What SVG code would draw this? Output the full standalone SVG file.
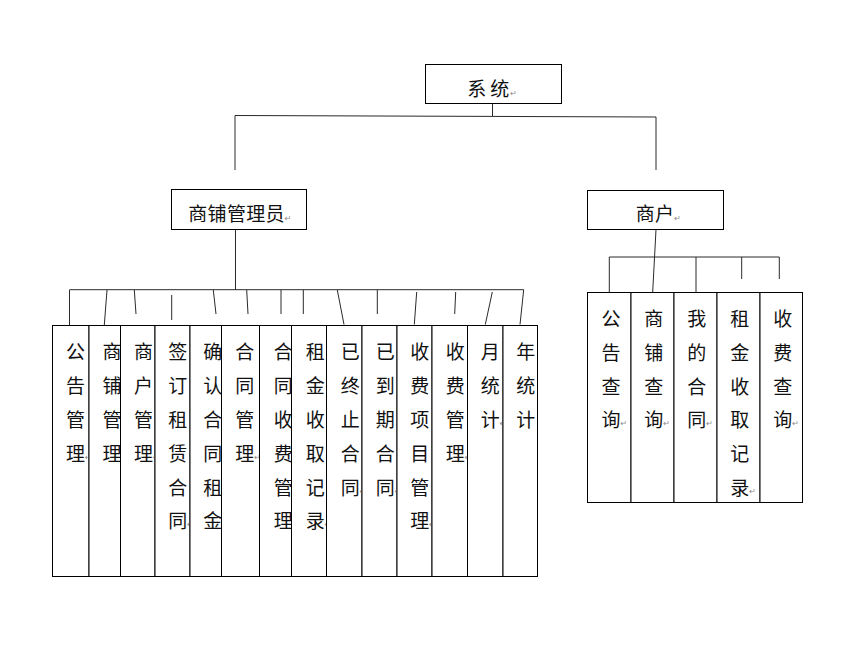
<svg xmlns="http://www.w3.org/2000/svg" width="849" height="664" viewBox="0 0 849 664">
<style>
.bg{fill:#ffffff}
.box{fill:#ffffff;stroke:#000000;stroke-width:1}
.t{font-family:"Noto Sans CJK SC","Noto Sans CJK TC",sans-serif;font-size:19px;fill:#111111}
.h{letter-spacing:0.3px}
.pm{font-family:"DejaVu Sans",sans-serif;font-size:8px;fill:#8a8a8a;letter-spacing:0}
.c{stroke:#2a2a2a;stroke-width:1;fill:none}
</style>
<rect class="bg" x="0" y="0" width="849" height="664"/>

<g id="connectors">
  <line class="c" x1="492.5" y1="103.5" x2="492.5" y2="116"/>
  <line class="c" x1="235" y1="115.5" x2="656" y2="117"/>
  <line class="c" x1="235" y1="115.5" x2="235" y2="170"/>
  <line class="c" x1="656" y1="117" x2="656" y2="170"/>

  <line class="c" x1="235.5" y1="229.5" x2="235.5" y2="290"/>
  <line class="c" x1="69.5" y1="289.7" x2="523.7" y2="289.7"/>
  <line class="c" x1="69.5" y1="290" x2="69.5" y2="325"/>
  <line class="c" x1="107" y1="290" x2="104.3" y2="325"/>
  <line class="c" x1="134.3" y1="290" x2="136" y2="314"/>
  <line class="c" x1="171.7" y1="295" x2="171.7" y2="320"/>
  <line class="c" x1="213.3" y1="290" x2="216" y2="314"/>
  <line class="c" x1="246.7" y1="290" x2="248" y2="314"/>
  <line class="c" x1="281" y1="290" x2="281" y2="314"/>
  <line class="c" x1="303.3" y1="290" x2="303.3" y2="314"/>
  <line class="c" x1="337.3" y1="290" x2="344" y2="324.5"/>
  <line class="c" x1="377.3" y1="290" x2="377.3" y2="314"/>
  <line class="c" x1="416.7" y1="292" x2="414.3" y2="324.5"/>
  <line class="c" x1="455.7" y1="292" x2="454.7" y2="314"/>
  <line class="c" x1="492.3" y1="292" x2="485.3" y2="324.5"/>
  <line class="c" x1="523.7" y1="289.7" x2="520" y2="324.5"/>

  <line class="c" x1="656" y1="229.5" x2="652.7" y2="292"/>
  <line class="c" x1="609.3" y1="257" x2="779.3" y2="257"/>
  <line class="c" x1="609.3" y1="257" x2="609.3" y2="292"/>
  <line class="c" x1="696" y1="257" x2="696" y2="292"/>
  <line class="c" x1="741.7" y1="257" x2="741.7" y2="279"/>
  <line class="c" x1="779.3" y1="257" x2="779.3" y2="279"/>
</g>

<g id="node-system">
  <rect class="box" x="425.5" y="64.5" width="136" height="39"/>
  <text class="t" x="467.3 486.5 490.3" y="96">系 统<tspan class="pm" dx="1">↵</tspan></text>
</g>

<g id="node-admin">
  <rect class="box" x="171.5" y="189.5" width="135" height="40"/>
  <text class="t h" x="188.3" y="221">商铺管理员<tspan class="pm">↵</tspan></text>
</g>

<g id="node-merchant">
  <rect class="box" x="587.5" y="190.5" width="136" height="39"/>
  <text class="t h" x="635.7" y="221">商户<tspan class="pm">↵</tspan></text>
</g>

<g id="node-a01">
  <rect class="box" x="52.5" y="325.5" width="36.5" height="251"/>
  <text class="t"><tspan x="66" y="358.9">公</tspan><tspan x="66" y="392.8">告</tspan><tspan x="66" y="426.7">管</tspan><tspan x="66" y="460.6">理</tspan><tspan class="pm" dy="-1">↵</tspan></text>
</g>
<g id="node-a02">
  <rect class="box" x="89" y="325.5" width="31.5" height="251"/>
  <text class="t"><tspan x="102.5" y="358.9">商</tspan><tspan x="102.5" y="392.8">铺</tspan><tspan x="102.5" y="426.7">管</tspan><tspan x="102.5" y="460.6">理</tspan><tspan class="pm" dy="-1">↵</tspan></text>
</g>
<g id="node-a03">
  <rect class="box" x="120.5" y="325.5" width="34.5" height="251"/>
  <text class="t"><tspan x="134" y="358.9">商</tspan><tspan x="134" y="392.8">户</tspan><tspan x="134" y="426.7">管</tspan><tspan x="134" y="460.6">理</tspan><tspan class="pm" dy="-1">↵</tspan></text>
</g>
<g id="node-a04">
  <rect class="box" x="155" y="325.5" width="35" height="251"/>
  <text class="t"><tspan x="168.3" y="358.9">签</tspan><tspan x="168.3" y="392.8">订</tspan><tspan x="168.3" y="426.7">租</tspan><tspan x="168.3" y="460.6">赁</tspan><tspan x="168.3" y="494.5">合</tspan><tspan x="168.3" y="528.4">同</tspan><tspan class="pm" dy="-1">↵</tspan></text>
</g>
<g id="node-a05">
  <rect class="box" x="190" y="325.5" width="31.5" height="251"/>
  <text class="t"><tspan x="203.3" y="358.9">确</tspan><tspan x="203.3" y="392.8">认</tspan><tspan x="203.3" y="426.7">合</tspan><tspan x="203.3" y="460.6">同</tspan><tspan x="203.3" y="494.5">租</tspan><tspan x="203.3" y="528.4">金</tspan><tspan class="pm" dy="-1">↵</tspan></text>
</g>
<g id="node-a06">
  <rect class="box" x="221.5" y="325.5" width="38" height="251"/>
  <text class="t"><tspan x="235.2" y="358.9">合</tspan><tspan x="235.2" y="392.8">同</tspan><tspan x="235.2" y="426.7">管</tspan><tspan x="235.2" y="460.6">理</tspan><tspan class="pm" dy="-1">↵</tspan></text>
</g>
<g id="node-a07">
  <rect class="box" x="259.5" y="325.5" width="32" height="251"/>
  <text class="t"><tspan x="273.8" y="358.9">合</tspan><tspan x="273.8" y="392.8">同</tspan><tspan x="273.8" y="426.7">收</tspan><tspan x="273.8" y="460.6">费</tspan><tspan x="273.8" y="494.5">管</tspan><tspan x="273.8" y="528.4">理</tspan><tspan class="pm" dy="-1">↵</tspan></text>
</g>
<g id="node-a08">
  <rect class="box" x="291.5" y="325.5" width="35" height="251"/>
  <text class="t"><tspan x="305.8" y="358.9">租</tspan><tspan x="305.8" y="392.8">金</tspan><tspan x="305.8" y="426.7">收</tspan><tspan x="305.8" y="460.6">取</tspan><tspan x="305.8" y="494.5">记</tspan><tspan x="305.8" y="528.4">录</tspan><tspan class="pm" dy="-1">↵</tspan></text>
</g>
<g id="node-a09">
  <rect class="box" x="326.5" y="325.5" width="35.5" height="251"/>
  <text class="t"><tspan x="340.8" y="358.9">已</tspan><tspan x="340.8" y="392.8">终</tspan><tspan x="340.8" y="426.7">止</tspan><tspan x="340.8" y="460.6">合</tspan><tspan x="340.8" y="494.5">同</tspan><tspan class="pm" dy="-1">↵</tspan></text>
</g>
<g id="node-a10">
  <rect class="box" x="362" y="325.5" width="35" height="251"/>
  <text class="t"><tspan x="375.8" y="358.9">已</tspan><tspan x="375.8" y="392.8">到</tspan><tspan x="375.8" y="426.7">期</tspan><tspan x="375.8" y="460.6">合</tspan><tspan x="375.8" y="494.5">同</tspan><tspan class="pm" dy="-1">↵</tspan></text>
</g>
<g id="node-a11">
  <rect class="box" x="397" y="325.5" width="35" height="251"/>
  <text class="t"><tspan x="410.3" y="358.9">收</tspan><tspan x="410.3" y="392.8">费</tspan><tspan x="410.3" y="426.7">项</tspan><tspan x="410.3" y="460.6">目</tspan><tspan x="410.3" y="494.5">管</tspan><tspan x="410.3" y="528.4">理</tspan><tspan class="pm" dy="-1">↵</tspan></text>
</g>
<g id="node-a12">
  <rect class="box" x="432" y="325.5" width="35.5" height="251"/>
  <text class="t"><tspan x="445.8" y="358.9">收</tspan><tspan x="445.8" y="392.8">费</tspan><tspan x="445.8" y="426.7">管</tspan><tspan x="445.8" y="460.6">理</tspan><tspan class="pm" dy="-1">↵</tspan></text>
</g>
<g id="node-a13">
  <rect class="box" x="467.5" y="325.5" width="35.5" height="251"/>
  <text class="t"><tspan x="480.8" y="358.9">月</tspan><tspan x="480.8" y="392.8">统</tspan><tspan x="480.8" y="426.7">计</tspan><tspan class="pm" dy="-1">↵</tspan></text>
</g>
<g id="node-a14">
  <rect class="box" x="503" y="325.5" width="34.5" height="251"/>
  <text class="t"><tspan x="516.3" y="358.9">年</tspan><tspan x="516.3" y="392.8">统</tspan><tspan x="516.3" y="426.7">计</tspan></text>
</g>

<g id="node-b1">
  <rect class="box" x="587.5" y="292.5" width="43.5" height="210"/>
  <text class="t"><tspan x="601.5" y="325.9">公</tspan><tspan x="601.5" y="359.7">告</tspan><tspan x="601.5" y="393.5">查</tspan><tspan x="601.5" y="427.3">询</tspan><tspan class="pm" dy="-1">↵</tspan></text>
</g>
<g id="node-b2">
  <rect class="box" x="631" y="292.5" width="43" height="210"/>
  <text class="t"><tspan x="644.2" y="325.9">商</tspan><tspan x="644.2" y="359.7">铺</tspan><tspan x="644.2" y="393.5">查</tspan><tspan x="644.2" y="427.3">询</tspan><tspan class="pm" dy="-1">↵</tspan></text>
</g>
<g id="node-b3">
  <rect class="box" x="674" y="292.5" width="43" height="210"/>
  <text class="t"><tspan x="687.2" y="325.9">我</tspan><tspan x="687.2" y="359.7">的</tspan><tspan x="687.2" y="393.5">合</tspan><tspan x="687.2" y="427.3">同</tspan><tspan class="pm" dy="-1">↵</tspan></text>
</g>
<g id="node-b4">
  <rect class="box" x="717" y="292.5" width="43" height="210"/>
  <text class="t"><tspan x="730.2" y="325.9">租</tspan><tspan x="730.2" y="359.7">金</tspan><tspan x="730.2" y="393.5">收</tspan><tspan x="730.2" y="427.3">取</tspan><tspan x="730.2" y="461.1">记</tspan><tspan x="730.2" y="494.9">录</tspan><tspan class="pm" dy="-1">↵</tspan></text>
</g>
<g id="node-b5">
  <rect class="box" x="760" y="292.5" width="42.5" height="210"/>
  <text class="t"><tspan x="773.2" y="325.9">收</tspan><tspan x="773.2" y="359.7">费</tspan><tspan x="773.2" y="393.5">查</tspan><tspan x="773.2" y="427.3">询</tspan><tspan class="pm" dy="-1">↵</tspan></text>
</g>
</svg>
